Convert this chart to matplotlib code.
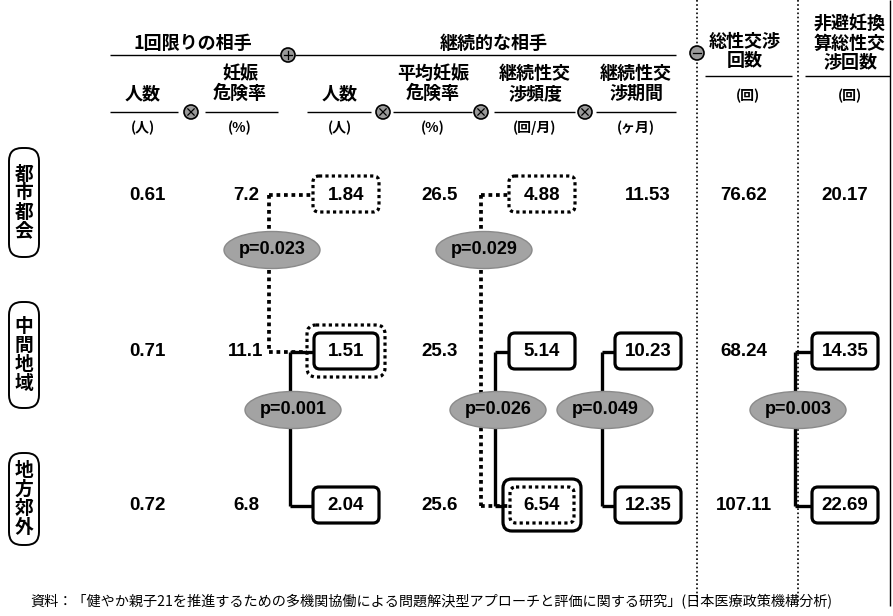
import numpy as np
import matplotlib
matplotlib.use("Agg")
import matplotlib.pyplot as plt
from matplotlib.patches import FancyBboxPatch, Ellipse, Circle

plt.rcParams['font.family'] = ['Noto Sans CJK JP', 'DejaVu Sans']

# data
regions = ["都市都会", "中間地域", "地方郊外"]
one_time_n = [0.61, 0.71, 0.72]        # 1回限りの相手 人数
one_time_risk = [7.2, 11.1, 6.8]       # 妊娠危険率 (%)
cont_n = [1.84, 1.51, 2.04]            # 継続的な相手 人数
cont_risk = [26.5, 25.3, 25.6]         # 平均妊娠危険率 (%)
cont_freq = [4.88, 5.14, 6.54]         # 継続性交渉頻度 (回/月)
cont_period = [11.53, 10.23, 12.35]    # 継続性交渉期間 (ヶ月)
total_sex = [76.62, 68.24, 107.11]     # 総性交渉回数
unprot_sex = [20.17, 14.35, 22.69]     # 非避妊換算総性交渉回数

columns = [one_time_n, one_time_risk, cont_n, cont_risk,
           cont_freq, cont_period, total_sex, unprot_sex]
fmt = ["{:.2f}", "{:.1f}", "{:.2f}", "{:.1f}", "{:.2f}", "{:.2f}", "{:.2f}", "{:.2f}"]

# significant differences: (column, row a, row b, p, style)
tests = [(2, 0, 1, "0.023", "dotted"),
         (2, 1, 2, "0.001", "solid"),
         (4, 0, 2, "0.029", "dotted"),
         (4, 1, 2, "0.026", "solid"),
         (5, 1, 2, "0.049", "solid"),
         (7, 1, 2, "0.003", "solid")]

# layout (pixels)
col_x = [147, 246, 346, 440, 542, 648, 744, 845]
row_y = [195, 352, 506]
label_box = [(148, 257), (302, 408), (453, 545)]
vline_x = {("dotted", 2): 269, ("solid", 2): 290, ("dotted", 4): 481,
           ("solid", 4): 495, ("solid", 5): 602, ("solid", 7): 795}
ell_y = {"dotted": 250, "solid": 410}
box_w, box_h = 66, 36

fig = plt.figure(figsize=(8.93, 6.16), dpi=100)
ax = fig.add_axes([0, 0, 1, 1])
ax.set_xlim(0, 893)
ax.set_ylim(616, 0)
ax.axis("off")

DOT = (0, (1, 1))
bold = dict(fontweight="bold", ha="center", va="center")


def hline(x0, x1, y, **kw):
    ax.plot([x0, x1], [y, y], color="black", lw=kw.get("lw", 1.0), ls=kw.get("ls", "-"),
            solid_capstyle="butt", dash_capstyle="butt", zorder=kw.get("z", 2))


def vline(x, y0, y1, **kw):
    ax.plot([x, x], [y0, y1], color="black", lw=kw.get("lw", 1.0), ls=kw.get("ls", "-"),
            solid_capstyle="butt", dash_capstyle="butt", zorder=kw.get("z", 2))


def op(x, y, kind, r=7):
    ax.add_patch(Circle((x, y), r, facecolor="#9a9a9a", edgecolor="black", lw=1.2, zorder=4))
    d = r * 0.6
    if kind == "+":
        ax.plot([x - d, x + d], [y, y], color="black", lw=0.9, zorder=5)
        ax.plot([x, x], [y - d, y + d], color="black", lw=0.9, zorder=5)
    elif kind == "x":
        d = r * 0.45
        ax.plot([x - d, x + d], [y - d, y + d], color="black", lw=0.9, zorder=5)
        ax.plot([x - d, x + d], [y + d, y - d], color="black", lw=0.9, zorder=5)
    else:
        ax.plot([x - d, x + d], [y, y], color="black", lw=0.9, zorder=5)


def rbox(cx, cy, w, h, ls="-", lw=2.3, r=6):
    ax.add_patch(FancyBboxPatch((cx - w / 2, cy - h / 2), w, h,
                                boxstyle=f"round,pad=0,rounding_size={r}",
                                facecolor="none", edgecolor="black", lw=lw, ls=ls,
                                capstyle="butt", zorder=3))


# vertical separators and right border
vline(697, 0, 602, ls=(0, (1, 1.5)), lw=1.2)
vline(798, 0, 602, ls=(0, (1, 1.5)), lw=1.2)
vline(890, 0, 606, lw=1.0)

# header
ax.text(193, 43, "1回限りの相手", fontsize=13, **bold)
ax.text(494, 43, "継続的な相手", fontsize=13, **bold)
hline(110, 281, 55)
op(288, 55, "+")
hline(295, 676, 55)
op(697, 53, "-")
ax.text(745, 51, "総性交渉\n回数", fontsize=13, linespacing=1.05, **bold)
ax.text(850, 43, "非避妊換\n算総性交\n渉回数", fontsize=13, linespacing=1.05, **bold)
hline(705, 792, 76)
hline(805, 890, 76)
ax.text(748, 96, "(回)", fontsize=10, **bold)
ax.text(850, 96, "(回)", fontsize=10, **bold)

sub = [(143, "人数", "(人)", 110, 178),
       (240, "妊娠\n危険率", "(%)", 205, 278),
       (340, "人数", "(人)", 307, 371),
       (433, "平均妊娠\n危険率", "(%)", 393, 472),
       (535, "継続性交\n渉頻度", "(回/月)", 494, 575),
       (636, "継続性交\n渉期間", "(ヶ月)", 596, 676)]
for cx, name, unit, x0, x1 in sub:
    ax.text(cx, 103, name, fontsize=13, linespacing=1.05, va="bottom",
            ha="center", fontweight="bold")
    ax.text(cx, 128, unit, fontsize=10, **bold)
    hline(x0, x1, 112)
for x in [191, 383, 481, 585]:
    op(x, 112, "x")

# row labels
for (y0, y1), name in zip(label_box, regions):
    ax.add_patch(FancyBboxPatch((9, y0), 30, y1 - y0,
                                boxstyle="round,pad=0,rounding_size=13",
                                facecolor="white", edgecolor="black", lw=1.4, zorder=3))
    ax.text(24, (y0 + y1) / 2, "\n".join(name), fontsize=13.5, linespacing=1.0,
            zorder=4, **bold)

# which cells get boxes
boxed = {}
for c, a, b, p, style in tests:
    for r in (a, b):
        boxed.setdefault((c, r), [])
        if style not in boxed[(c, r)]:
            boxed[(c, r)].append(style)
# outer style for cells with two boxes
outer = {(2, 1): "dotted", (4, 2): "solid"}

box_left = {}
for (c, r), styles in boxed.items():
    cx, cy = col_x[c], row_y[r] - 1
    if len(styles) == 1:
        rbox(cx, cy, box_w, box_h, ls="-" if styles[0] == "solid" else DOT)
        box_left[(c, r, styles[0])] = cx - box_w / 2
    else:
        o = outer[(c, r)]
        i = "solid" if o == "dotted" else "dotted"
        rbox(cx, cy, box_w - 2, box_h, ls="-" if i == "solid" else DOT)
        rbox(cx, cy, box_w + 12, box_h + 16, ls="-" if o == "solid" else DOT, r=9)
        box_left[(c, r, i)] = cx - box_w / 2 + 1
        box_left[(c, r, o)] = cx - box_w / 2 - 6

# numbers
for c, vals in enumerate(columns):
    for r, v in enumerate(vals):
        ax.text(col_x[c], row_y[r], fmt[c].format(v), fontsize=13.5,
                family="Liberation Sans", zorder=5, **bold)

# connectors and p-values
for c, a, b, p, style in tests:
    x = vline_x[(style, c)]
    ls = "-" if style == "solid" else DOT
    lw = 2.4 if style == "solid" else 2.7
    vline(x, row_y[a], row_y[b], ls=ls, lw=lw)
    for r in (a, b):
        hline(x, box_left[(c, r, style)], row_y[r], ls=ls, lw=lw)
    ey = ell_y[style]
    ax.add_patch(Ellipse((x + 3, ey), 96, 37, facecolor="#a3a3a3",
                         edgecolor="#8a8a8a", lw=1, zorder=6))
    ax.text(x + 3, ey, "p=" + p, fontsize=13, family="Liberation Sans",
            zorder=7, **bold)

# source
ax.text(30, 602, "資料：「健やか親子21を推進するための多機関協働による問題解決型アプローチと評価に関する研究」(日本医療政策機構分析)",
        fontsize=10.2, ha="left", va="center")

fig.savefig("out.png", dpi=100)
